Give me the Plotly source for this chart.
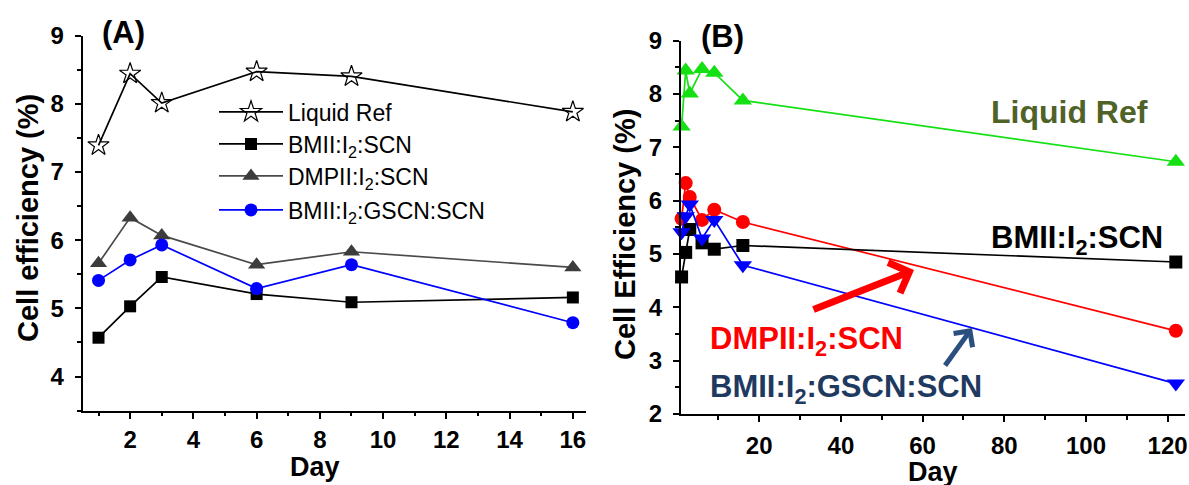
import plotly.graph_objects as go

# ---------------- data ----------------
days_a = [1, 2, 3, 6, 9, 16]
days_b = [1, 2, 3, 6, 9, 16, 122]

liquid_ref = [7.39, 8.44, 8.01, 8.47, 8.40, 7.88]
bmii_scn = [4.57, 5.03, 5.46, 5.21, 5.09, 5.16]
dmpii_scn = [5.66, 6.33, 6.07, 5.64, 5.83, 5.60]
bmii_gscn_scn = [5.41, 5.71, 5.93, 5.29, 5.64, 4.79]

liquid_ref_b = [7.39, 8.44, 8.01, 8.47, 8.40, 7.88, 6.73]
bmii_scn_b = [4.57, 5.03, 5.46, 5.21, 5.09, 5.16, 4.85]
dmpii_scn_b = [5.66, 6.33, 6.07, 5.64, 5.83, 5.60, 3.56]
bmii_gscn_scn_b = [5.41, 5.71, 5.93, 5.29, 5.64, 4.79, 2.57]

names = ["Liquid Ref", "BMII:I<sub>2</sub>:SCN", "DMPII:I<sub>2</sub>:SCN",
         "BMII:I<sub>2</sub>:GSCN:SCN"]

W, H = 1189, 485
FONT = "Liberation Sans, Arial, sans-serif"


def px(x):
    return x / W


def py(y):
    return 1 - y / H


fig = go.Figure()

# ---------------- panel A ----------------
fig.add_trace(go.Scatter(x=days_a, y=liquid_ref, name=names[0], mode="lines+markers",
                         line=dict(color="black", width=1.7),
                         marker=dict(symbol="star-open", size=16, color="black",
                                     line=dict(width=1.2, color="black")),
                         xaxis="x", yaxis="y", cliponaxis=False, legend="legend"))
fig.add_trace(go.Scatter(x=days_a, y=bmii_scn, name=names[1], mode="lines+markers",
                         line=dict(color="black", width=1.7),
                         marker=dict(symbol="square", size=12, color="black"),
                         xaxis="x", yaxis="y", cliponaxis=False, legend="legend2"))
fig.add_trace(go.Scatter(x=days_a, y=dmpii_scn, name=names[2], mode="lines+markers",
                         line=dict(color="#4a4a4a", width=1.7),
                         marker=dict(symbol="triangle-up", size=15, color="#3c3c3c"),
                         xaxis="x", yaxis="y", cliponaxis=False, legend="legend3"))
fig.add_trace(go.Scatter(x=days_a, y=bmii_gscn_scn, name=names[3], mode="lines+markers",
                         line=dict(color="#0000ff", width=1.7),
                         marker=dict(symbol="circle", size=13, color="#0000ff"),
                         xaxis="x", yaxis="y", cliponaxis=False, legend="legend4"))

# ---------------- panel B ----------------
fig.add_trace(go.Scatter(x=days_b, y=liquid_ref_b, mode="lines+markers", showlegend=False,
                         line=dict(color="#14e014", width=1.7),
                         marker=dict(symbol="triangle-up", size=16, color="#14e014"),
                         xaxis="x2", yaxis="y2", cliponaxis=False))
fig.add_trace(go.Scatter(x=days_b, y=dmpii_scn_b, mode="lines+markers", showlegend=False,
                         line=dict(color="#ff0000", width=1.7),
                         marker=dict(symbol="circle", size=14, color="#ff0000"),
                         xaxis="x2", yaxis="y2", cliponaxis=False))
fig.add_trace(go.Scatter(x=days_b, y=bmii_scn_b, mode="lines+markers", showlegend=False,
                         line=dict(color="black", width=1.7),
                         marker=dict(symbol="square", size=13, color="black"),
                         xaxis="x2", yaxis="y2", cliponaxis=False))
fig.add_trace(go.Scatter(x=days_b, y=bmii_gscn_scn_b, mode="lines+markers", showlegend=False,
                         line=dict(color="#0000ff", width=1.7),
                         marker=dict(symbol="triangle-down", size=16, color="#0000ff"),
                         xaxis="x2", yaxis="y2", cliponaxis=False))

tickfont = dict(family=FONT, size=24, color="black", weight="bold")
axis_common = dict(showline=True, linecolor="black", linewidth=2, ticks="outside",
                   ticklen=6, tickwidth=1.5, tickcolor="black", showgrid=False,
                   zeroline=False, tickfont=tickfont, fixedrange=True, automargin=False)


def minor(d):
    return dict(tick0=0, dtick=d, ticks="outside", ticklen=3.5, tickwidth=1.5,
                tickcolor="black")


def legend_at(y):
    return dict(x=px(214), y=py(y), xanchor="left", yanchor="middle",
                bgcolor="rgba(0,0,0,0)", borderwidth=0,
                font=dict(family=FONT, size=23, color="black"),
                itemwidth=64, tracegroupgap=0)


fig.update_layout(
    template="none",
    width=W, height=H,
    margin=dict(l=0, r=0, t=0, b=0, pad=0, autoexpand=False),
    paper_bgcolor="white", plot_bgcolor="white",
    font=dict(family=FONT, color="black"),
    xaxis=dict(domain=[px(82.7), px(585.5)], anchor="y", range=[0.5, 16.4],
               tickmode="linear", tick0=0, dtick=2, ticklabelstandoff=0,
               minor=minor(1), **axis_common),
    yaxis=dict(domain=[py(410.7), py(35.5)], anchor="x", range=[3.5, 9.0],
               tickmode="linear", tick0=0, dtick=1, ticklabelstandoff=6,
               minor=minor(0.5), **axis_common),
    xaxis2=dict(domain=[px(680.9), px(1185.2)], anchor="y2", range=[0.83, 124.3],
                tickmode="linear", tick0=0, dtick=20, ticklabelstandoff=3,
                minor=minor(10), **axis_common),
    yaxis2=dict(domain=[py(414), py(40.7)], anchor="x2", range=[2, 9.0],
                tickmode="linear", tick0=0, dtick=1, ticklabelstandoff=6,
                minor=minor(0.5), **axis_common),
    legend=legend_at(112),
    legend2=legend_at(144),
    legend3=legend_at(176),
    legend4=legend_at(210),
    showlegend=True,
)


def label(text, x, y, size, color="black", xanchor="center", angle=0):
    return dict(text=text, x=px(x), y=py(y), xref="paper", yref="paper",
                xanchor=xanchor, yanchor="middle", textangle=angle, showarrow=False,
                font=dict(family=FONT, size=size, color=color))


ann = [
    label("<b>(A)</b>", 123, 33, 31),
    label("<b>(B)</b>", 722, 37, 31),
    label("<b>Cell efficiency (%)</b>", 28, 218, 29, angle=-90),
    label("<b>Cell Efficiency (%)</b>", 625, 235, 29, angle=-90),
    label("<b>Day</b>", 315, 467, 27),
    label("<b>Day</b>", 933, 472, 27),
    label("<b>Liquid Ref</b>", 1069, 112, 32, color="#4f6228"),
    label("<b>BMII:I<sub>2</sub>:SCN</b>", 1077, 240, 31),
    label("<b>DMPII:I<sub>2</sub>:SCN</b>", 708, 341, 31, color="#ff0000", xanchor="left"),
    label("<b>BMII:I<sub>2</sub>:GSCN:SCN</b>", 708, 389, 31, color="#1f3a60",
          xanchor="left"),
]
# arrows
ann.append(dict(text="", x=px(914), y=py(270), xref="paper", yref="paper",
                ax=812 - 914, ay=310 - 270, axref="pixel", ayref="pixel",
                showarrow=True, arrowhead=4, arrowsize=0.9, arrowwidth=7,
                arrowcolor="#ff0000", standoff=0, startstandoff=0))
ann.append(dict(text="", x=px(972), y=py(328), xref="paper", yref="paper",
                ax=944 - 972, ay=367 - 328, axref="pixel", ayref="pixel",
                showarrow=True, arrowhead=4, arrowsize=0.9, arrowwidth=5,
                arrowcolor="#2b4f7e", standoff=0, startstandoff=0))

fig.update_layout(annotations=ann)

fig.write_html("out.html")
